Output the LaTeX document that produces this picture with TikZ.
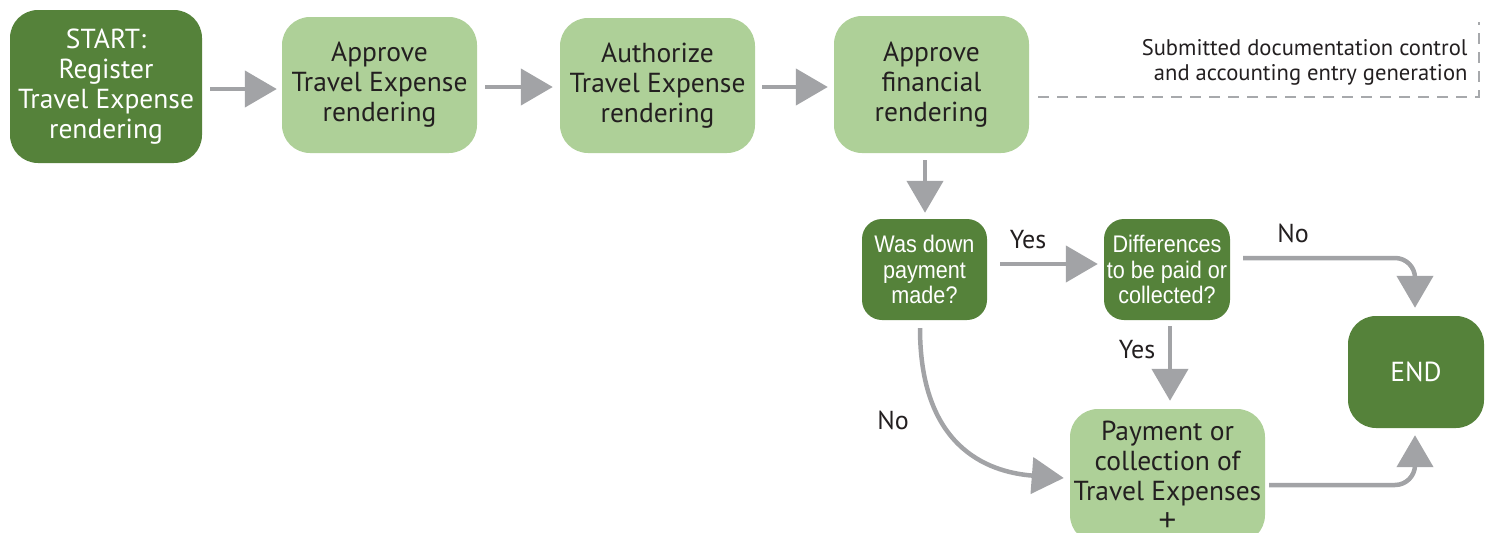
\documentclass[tikz,border=0pt]{standalone}
\usepackage{fontspec}
\setmainfont{PT Sans}
\newfontfamily\condensedfont[FakeStretch=0.9]{Liberation Sans}
\newfontfamily\plainsans{Liberation Sans}
\usetikzlibrary{arrows.meta,calc}

\definecolor{darkgreen}{HTML}{55823A}
\definecolor{lightgreen}{HTML}{AED098}
\definecolor{arrowgray}{HTML}{A2A3A6}
\definecolor{dashgray}{HTML}{A7A9AC}
\definecolor{inktext}{HTML}{231F20}

\tikzset{
  box/.style={rounded corners=28pt, align=center, inner sep=0pt,
    font=\fontsize{27.5}{30}\selectfont},
  darkbox/.style={box, fill=darkgreen, text=white},
  lightbox/.style={box, fill=lightgreen, text=inktext},
  decision/.style={rounded corners=20pt, fill=darkgreen, text=white,
    align=center, inner sep=0pt,
    font=\condensedfont\fontsize{24}{25.5}\selectfont},
  flow/.style={draw=arrowgray, line width=4.5pt,
    -{Triangle[length=32pt,width=36pt]}},
  edgelabel/.style={text=inktext, font=\fontsize{26}{30}\selectfont},
  note/.style={text=inktext, align=right,
    font=\fontsize{22.6}{25}\selectfont}
}

\begin{document}
\begin{tikzpicture}[x=1pt,y=-1pt]
\path[use as bounding box] (0,0) rectangle (1492,533);
\clip (0,0) rectangle (1492,533);

% main process row
\node[darkbox, minimum width=192pt, minimum height=153pt] (start) at (106,86.5)
  {START:\\Register\\Travel Expense\\rendering};
\node[lightbox, minimum width=195pt, minimum height=136pt] (appr) at (379.5,85)
  {Approve\\Travel Expense\\rendering};
\node[lightbox, minimum width=195pt, minimum height=135pt] (auth) at (657.5,85.5)
  {Authorize\\Travel Expense\\rendering};
\node[lightbox, minimum width=195pt, minimum height=137pt] (fin) at (931.5,84.5)
  {Approve\\financial\\rendering};

% decisions and settlement
\node[decision, minimum width=125pt, minimum height=101pt] (wdp) at (924.5,269.5)
  {Was down\\payment\\made?};
\node[decision, minimum width=126pt, minimum height=101pt] (diff) at (1167,269.5)
  {Differences\\to be paid or\\collected?};
\node[darkbox, minimum width=136pt, minimum height=112pt] (endn) at (1416,372)
  {END};
\node[lightbox, minimum width=195pt, minimum height=134pt] (pay) at (1167.5,476)
  {Payment or\\collection of\\Travel Expenses\\{\plainsans\fontsize{31}{30}\selectfont +}};

% back-office annotation
\coordinate (dcorner) at (1479,97);
\coordinate (dtop) at (1479,22);
\draw[dashgray, line width=2.3pt, dash pattern=on 11pt off 8pt]
  ($(fin.east)+(9,12.5)$) -- (dcorner) -- (dtop);
\node[note, anchor=east] (notetext) at (1471,62)
  {Submitted documentation control\\and accounting entry generation};

% connectors
\draw[flow] ($(start.east)+(8,2.5)$) -- ($(appr.west)+(-5,4)$);
\draw[flow] ($(appr.east)+(8,2)$) -- ($(auth.west)+(-7,1.5)$);
\draw[flow] ($(auth.east)+(7,1.5)$) -- ($(fin.west)+(-6,2.5)$);
\draw[flow] ($(fin.south)+(-6.5,7)$) -- ($(wdp.north)+(0.5,-6)$);
\draw[flow] ($(wdp.east)+(13,-5.5)$) -- ($(diff.west)+(-6,-5.5)$);
\node[edgelabel] (yes1) at (1028,240) {Yes};
\draw[flow, rounded corners=20pt] ($(diff.east)+(13,-11.5)$)
  -| ($(endn.north)+(-1,-8)$);
\node[edgelabel] (no1) at (1293,233) {No};
\draw[flow] ($(diff.south)+(3,6)$) -- ($(pay.north)+(2.5,-8)$);
\node[edgelabel] (yes2) at (1137,350) {Yes};
\draw[flow] ($(wdp.south)+(-4.5,8)$)
  .. controls (920,445) and (985,472) .. ($(pay.west)+(-6,2)$);
\node[edgelabel] (no2) at (893,420) {No};
\draw[flow, rounded corners=20pt] ($(pay.east)+(4,9)$)
  -| ($(endn.south)+(-1,7)$);
\end{tikzpicture}
\end{document}
